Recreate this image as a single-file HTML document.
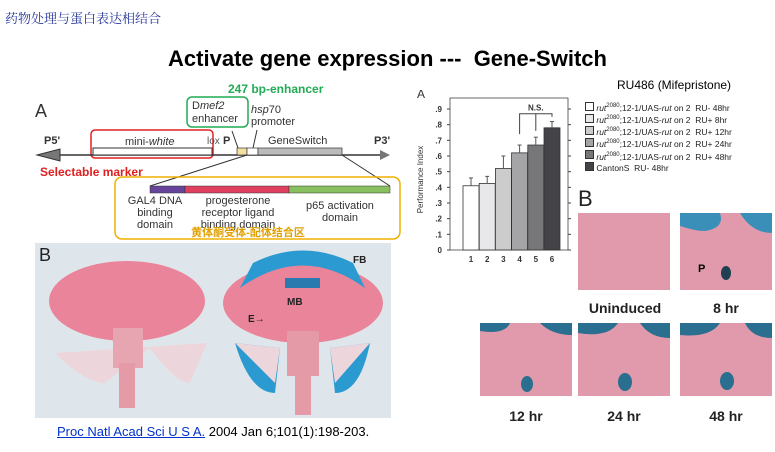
<!DOCTYPE html>
<html><head><meta charset="utf-8"><style>
body{margin:0;width:775px;height:452px;background:#fff;position:relative;overflow:hidden;font-family:"Liberation Sans","Noto Sans CJK SC",sans-serif}
.a{position:absolute;white-space:nowrap}
</style></head><body>
<div class="a" style="left:5px;top:8px;font-size:13px;color:#2a3a9a;font-family:'Liberation Serif','Noto Serif CJK SC',serif">药物处理与蛋白表达相结合</div>
<div class="a" style="left:0;width:775px;text-align:center;top:46px;font-size:22px;font-weight:bold">Activate gene expression ---&nbsp; Gene-Switch</div>
<div class="a" style="left:617px;top:78px;font-size:12px">RU486 (Mifepristone)</div>

<svg class="a" style="left:0;top:0" width="410" height="245" font-family="Liberation Sans,Noto Sans CJK SC,sans-serif">
<text x="35" y="117" font-size="18" fill="#333">A</text>
<text x="228" y="93" font-size="12" font-weight="bold" fill="#22aa55">247 bp-enhancer</text>
<rect x="187" y="97" width="61" height="30" rx="5" fill="none" stroke="#22aa55" stroke-width="1.5"/>
<text x="192" y="109" font-size="11" fill="#333">D<tspan font-style="italic">mef2</tspan></text>
<text x="192" y="122" font-size="11" fill="#333">enhancer</text>
<text x="251" y="113" font-size="11" fill="#333"><tspan font-style="italic">hsp</tspan>70</text>
<text x="251" y="125" font-size="11" fill="#333">promoter</text>
<rect x="91" y="130" width="122" height="28" rx="4" fill="none" stroke="#e02020" stroke-width="1.5"/>
<text x="125" y="145" font-size="11" fill="#333">mini-<tspan font-style="italic">white</tspan></text>
<text x="207" y="144" font-size="10" fill="#555">lox</text><text x="223" y="144" font-size="11" font-weight="bold" fill="#333">P</text>
<text x="44" y="144" font-size="11" font-weight="bold" fill="#333">P5'</text>
<text x="374" y="144" font-size="11" font-weight="bold" fill="#333">P3'</text>
<text x="268" y="144" font-size="11" fill="#333">GeneSwitch</text>
<line x1="50" y1="155" x2="382" y2="155" stroke="#333" stroke-width="1.5"/>
<polygon points="37,155 60,149 60,161" fill="#777" stroke="#333"/>
<polygon points="390,155 380,150 380,160" fill="#777"/>
<rect x="93" y="148" width="119" height="7" fill="#fff" stroke="#333"/>
<rect x="237" y="148" width="10" height="7" fill="#f4e0a0" stroke="#333" stroke-width=".7"/>
<rect x="247" y="148" width="11" height="7" fill="#fff" stroke="#333" stroke-width=".7"/>
<rect x="258" y="148" width="84" height="7" fill="#bbb" stroke="#333" stroke-width=".7"/>
<line x1="232" y1="131" x2="238" y2="148" stroke="#333"/><line x1="257" y1="130" x2="253" y2="148" stroke="#333"/>
<line x1="247" y1="155" x2="150" y2="186" stroke="#333"/><line x1="342" y1="155" x2="390" y2="186" stroke="#333"/>
<text x="40" y="176" font-size="12" font-weight="bold" fill="#e02020">Selectable marker</text>
<rect x="115" y="177" width="285" height="62" rx="7" fill="none" stroke="#f0b000" stroke-width="1.5"/>
<rect x="150" y="186" width="35" height="7" fill="#66449a" stroke="#333" stroke-width=".5"/>
<rect x="185" y="186" width="104" height="7" fill="#e04060" stroke="#333" stroke-width=".5"/>
<rect x="289" y="186" width="101" height="7" fill="#88c060" stroke="#333" stroke-width=".5"/>
<g font-size="11" fill="#333" text-anchor="middle">
<text x="155" y="204">GAL4 DNA</text><text x="155" y="216">binding</text><text x="155" y="228">domain</text>
<text x="238" y="204">progesterone</text><text x="238" y="216">receptor ligand</text><text x="238" y="228">binding domain</text>
<text x="340" y="209">p65 activation</text><text x="340" y="221">domain</text>
</g>
<text x="248" y="236" font-size="11" font-weight="bold" fill="#e0a000" text-anchor="middle">黄体酮受体-配体结合区</text>
</svg>

<svg class="a" style="left:35px;top:243px" width="356" height="175">
<rect width="356" height="175" fill="#dfe6eb"/>
<text x="4" y="18" font-size="18" fill="#222" font-family="Liberation Sans">B</text>
<path d="M20 110 Q50 140 70 140 L115 105 Q140 140 155 140 L172 100Z" fill="#ecd6dc"/>
<ellipse cx="92" cy="58" rx="78" ry="40" fill="#e9849a"/>
<rect x="78" y="85" width="30" height="40" fill="#e7a5b2"/>
<rect x="84" y="120" width="16" height="45" fill="#e59aa8"/>
<path d="M200 100 Q215 150 240 150 L245 105Z M335 100 Q325 150 300 150 L295 105Z" fill="#2a9ad0"/>
<path d="M200 100 L245 105 L240 140Z M335 100 L295 105 L300 140Z" fill="#ecd6dc"/>
<ellipse cx="268" cy="60" rx="80" ry="40" fill="#e9849a"/>
<path d="M205 45 Q268 0 330 45 L318 20 Q268 -5 218 20Z" fill="#2a9ad0"/>
<path d="M250 35 h35 v10 h-35z" fill="#2a7ab0"/>
<rect x="252" y="88" width="32" height="45" fill="#e59aa8"/>
<rect x="260" y="130" width="16" height="42" fill="#e59aa8"/>
<g font-size="10" font-weight="bold" fill="#222" font-family="Liberation Sans"><text x="318" y="20">FB</text><text x="252" y="62">MB</text><text x="213" y="79">E→</text></g>
</svg>

<div class="a" style="left:57px;top:424px;font-size:13px;font-family:'Liberation Sans',sans-serif"><a style="color:#0033cc;text-decoration:underline">Proc Natl Acad Sci U S A.</a> 2004 Jan 6;101(1):198-203.</div>

<svg class="a" id="chart" style="left:400px;top:90px" width="180" height="180" font-family="Liberation Sans,sans-serif"></svg>

<div class="a" style="left:585px;top:101px;font-size:8.5px;line-height:10.3px;color:#222">
<div><span style="display:inline-block;width:7px;height:7px;border:1px solid #333;background:#fff"></span> <i>rut</i><sup style="font-size:6px">2080</sup>;12-1/UAS-<i>rut</i> on 2&nbsp; RU- 48hr</div>
<div><span style="display:inline-block;width:7px;height:7px;border:1px solid #333;background:#e8e8ea"></span> <i>rut</i><sup style="font-size:6px">2080</sup>;12-1/UAS-<i>rut</i> on 2&nbsp; RU+ 8hr</div>
<div><span style="display:inline-block;width:7px;height:7px;border:1px solid #333;background:#ccc"></span> <i>rut</i><sup style="font-size:6px">2080</sup>;12-1/UAS-<i>rut</i> on 2&nbsp; RU+ 12hr</div>
<div><span style="display:inline-block;width:7px;height:7px;border:1px solid #333;background:#a5a5a8"></span> <i>rut</i><sup style="font-size:6px">2080</sup>;12-1/UAS-<i>rut</i> on 2&nbsp; RU+ 24hr</div>
<div><span style="display:inline-block;width:7px;height:7px;border:1px solid #333;background:#77777a"></span> <i>rut</i><sup style="font-size:6px">2080</sup>;12-1/UAS-<i>rut</i> on 2&nbsp; RU+ 48hr</div>
<div><span style="display:inline-block;width:7px;height:7px;border:1px solid #333;background:#444448"></span> CantonS&nbsp; RU- 48hr</div>
</div>

<div class="a" style="left:578px;top:186px;font-size:22px;color:#222">B</div>
<svg class="a" style="left:0;top:0" width="775" height="452" font-family="Liberation Sans,sans-serif">
<rect x="578" y="213" width="92" height="77" fill="#e09aab"/>
<rect x="680" y="213" width="92" height="77" fill="#e09aab"/>
<path d="M680 213 h40 q5 15 -15 18 q-10 0 -25 -5Z M740 213 h32 v20 q-20 0 -32 -20Z" fill="#3a8fb8"/>
<ellipse cx="726" cy="273" rx="5" ry="7" fill="#1f4050"/>
<text x="698" y="272" font-size="11" font-weight="bold">P</text>
<rect x="480" y="323" width="92" height="73" fill="#e09aab"/>
<rect x="578" y="323" width="92" height="73" fill="#e09aab"/>
<rect x="680" y="323" width="92" height="73" fill="#e09aab"/>
<g fill="#2a6f8f"><ellipse cx="527" cy="384" rx="6" ry="8"/><ellipse cx="625" cy="382" rx="7" ry="9"/><ellipse cx="727" cy="381" rx="7" ry="9"/>
<path d="M480 323 h30 q-5 12 -30 8Z M540 323 h32 v12 q-20 0 -32 -12Z M578 323 h40 q-10 15 -40 10Z M640 323 h30 v15 q-20 0 -30 -15Z M680 323 h40 q-10 15 -40 12Z M745 323 h27 v15 q-20 0 -27 -15Z"/></g>
<g font-size="14" font-weight="bold" fill="#222" text-anchor="middle">
<text x="625" y="313">Uninduced</text><text x="726" y="313">8 hr</text>
<text x="526" y="421">12 hr</text><text x="624" y="421">24 hr</text><text x="726" y="421">48 hr</text></g>
</svg>

<script>
const categories=["1","2","3","4","5","6"];
const values=[0.41,0.425,0.52,0.62,0.67,0.78];
const errTops=[0.46,0.47,0.60,0.67,0.72,0.82];
const colors=["#fff","#e8e8ea","#ccc","#a5a5a8","#77777a","#444448"];
const yTicks=[0,0.1,0.2,0.3,0.4,0.5,0.6,0.7,0.8,0.9];
const yTickLabels=["0",".1",".2",".3",".4",".5",".6",".7",".8",".9"];
const svg=document.getElementById('chart');
const NS='http://www.w3.org/2000/svg';
const x0=50,x1=168,yb=160,yt=19,vmax=0.9;
const y=v=>yb-(v/vmax)*(yb-yt);
const bw=16,step=16.2,bstart=63;
const bx=i=>bstart+i*step;
function el(t,a,p){const e=document.createElementNS(NS,t);for(const k in a)e.setAttribute(k,a[k]);(p||svg).appendChild(e);return e;}
let t=el('text',{x:17,y:8,'font-size':12,fill:'#333'});t.textContent='A';


let ax=el('rect',{x:x0,y:8,width:x1-x0,height:yb-8,fill:'none',stroke:'#444','stroke-width':0.8});


yTicks.forEach((v,i)=>{
  el('line',{x1:x0-3,x2:x0,y1:y(v),y2:y(v),stroke:'#444'});
  el('line',{x1:x1,x2:x1+3,y1:y(v),y2:y(v),stroke:'#444'});
  const lb=el('text',{x:x0-8,y:y(v)+3,'font-size':8,'font-weight':'bold','text-anchor':'end',fill:'#333'});
  lb.textContent=yTickLabels[i];
  
  
});
const yt2=el('text',{x:0,y:0,'font-size':8,fill:'#333','text-anchor':'middle',transform:`translate(23,${(yb+yt)/2}) rotate(-90)`});
yt2.textContent='Performance Index';


categories.forEach((c,i)=>{
  const r=el('rect',{x:bx(i),y:y(values[i]),width:bw,height:yb-y(values[i]),fill:colors[i],stroke:'#333','stroke-width':0.8});
  
  
  const cx=bx(i)+bw/2;
  const e=el('line',{x1:cx,x2:cx,y1:y(values[i]),y2:y(errTops[i]),stroke:'#555'});
  
  
  el('line',{x1:cx-2,x2:cx+2,y1:y(errTops[i]),y2:y(errTops[i]),stroke:'#555'});
  const l=el('text',{x:cx,y:yb+12,'font-size':8,'font-weight':'bold','text-anchor':'middle',fill:'#333'});
  l.textContent=c;
  
  
});
const c3=bx(3)+bw/2,c4=bx(4)+bw/2,c5=bx(5)+bw/2,ty=y(0.87);
el('path',{d:`M${c3} ${y(0.74)} V${ty} H${c5} V${y(0.85)} M${c4} ${ty} V${y(0.76)}`,fill:'none',stroke:'#444'});
const ns=el('text',{x:c4,y:ty-3,'font-size':8,'font-weight':'bold','text-anchor':'middle',fill:'#333'});
ns.textContent='N.S.';


</script>
</body></html>
